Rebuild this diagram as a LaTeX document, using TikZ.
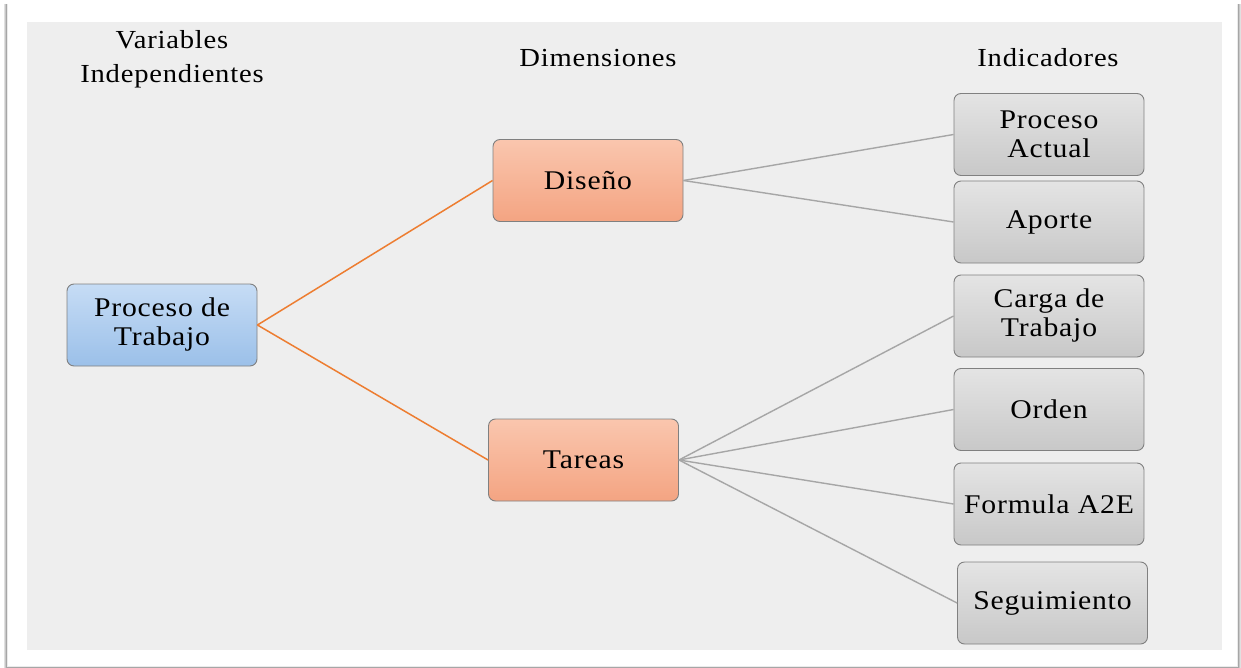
\documentclass[tikz,border=0pt]{standalone}
\usepackage{fontspec}
\setmainfont[FakeStretch=1.1, LetterSpace=3]{Liberation Serif}
\definecolor{panel}{RGB}{238,238,238}
\definecolor{varTop}{RGB}{198,220,245}
\definecolor{varBot}{RGB}{155,192,233}
\definecolor{dimTop}{RGB}{250,198,174}
\definecolor{dimBot}{RGB}{244,164,130}
\definecolor{indTop}{RGB}{228,228,228}
\definecolor{indBot}{RGB}{200,200,200}
\definecolor{linkOrange}{RGB}{237,125,49}
\begin{document}
\begin{tikzpicture}[x=1pt,y=-1pt,
  box/.style={draw=black!50, line width=0.9pt, rounded corners=7pt, minimum width=190pt,
    minimum height=82pt, align=center, font=\fontsize{27}{29}\selectfont, inner sep=2pt},
  varbox/.style={box, top color=varTop, bottom color=varBot},
  dimbox/.style={box, top color=dimTop, bottom color=dimBot},
  indbox/.style={box, top color=indTop, bottom color=indBot},
  head/.style={align=center, font=\fontsize{26}{34}\selectfont},
  hot/.style={draw=linkOrange, line width=1.5pt},
  cold/.style={draw=black!35, line width=1.4pt}]
\useasboundingbox (0,0) rectangle (1241,668);
\fill[white] (0,0) rectangle (1241,668);
% frame with soft shadow
\foreach \o/\c in {3/black!12,2/black!22,1/black!35}
  \draw[\c, line width=1pt] (7-\o,4) -- (7-\o,666+\o) -- (1237+\o,666+\o) -- (1237+\o,4);
\draw[black!8, line width=0.8pt] (7,4) rectangle (1237,666);
\fill[white] (7.5,4.5) rectangle (1236.5,665.5);
\fill[panel] (27,22) rectangle (1222,650);
% column headings
\node[head] (hvar) at (172,59) {Variables\\Independientes};
\node[head] (hdim) at (598,58) {Dimensiones};
\node[head] (hind) at (1048,58) {Indicadores};
% variable
\node[varbox] (pt) at (162,325) {Proceso de\\Trabajo};
% dimensions
\node[dimbox] (dis) at (588,180.5) {Diseño};
\node[dimbox] (tar) at (583.5,460) {Tareas};
% indicators
\node[indbox] (pa) at (1049,134.5) {Proceso\\Actual};
\node[indbox] (ap) at (1049,222) {Aporte};
\node[indbox] (cdt) at (1049,316) {Carga de\\Trabajo};
\node[indbox] (ord) at (1049,409.5) {Orden};
\node[indbox] (fa) at (1049,504) {Formula A2E};
\node[indbox] (seg) at (1052.5,603) {Seguimiento};
% connectors
\draw[hot] (pt.east) -- (dis.west);
\draw[hot] (pt.east) -- (tar.west);
\draw[cold] (dis.east) -- (pa.west);
\draw[cold] (dis.east) -- (ap.west);
\foreach \n in {cdt,ord,fa,seg}
  \draw[cold] (tar.east) -- (\n.west);
\end{tikzpicture}
\end{document}
